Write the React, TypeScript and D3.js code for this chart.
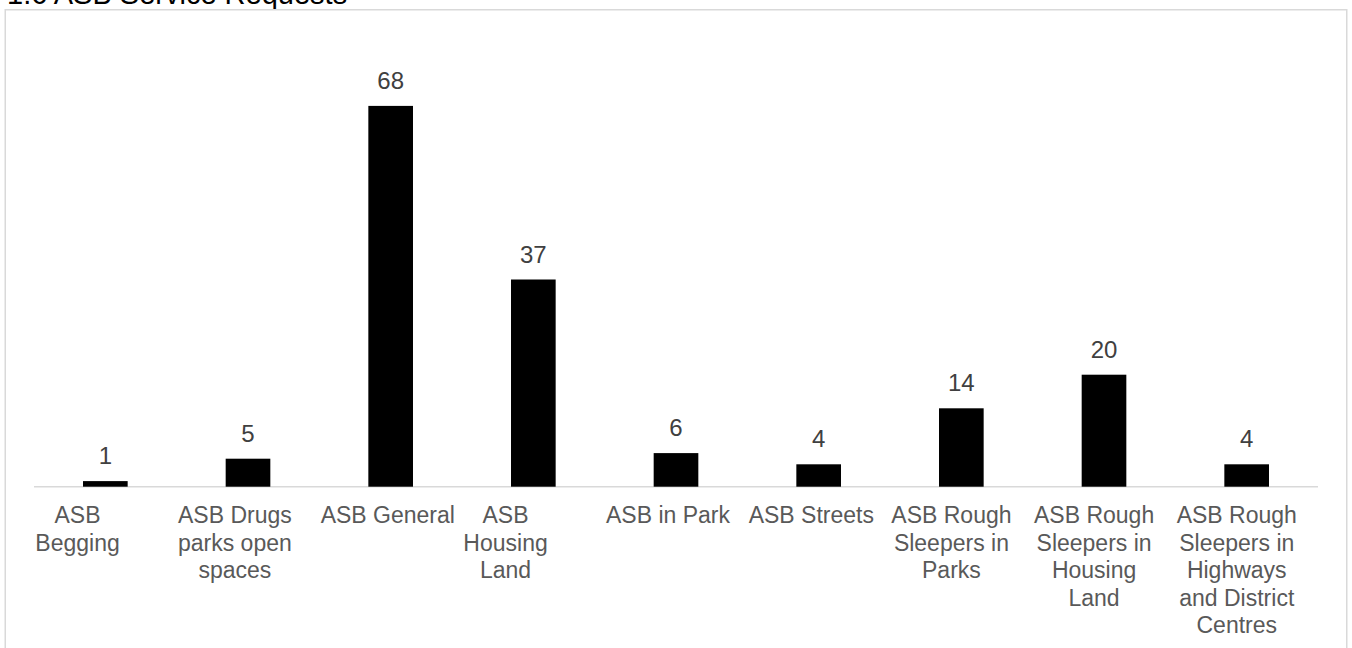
import React from "react";
import * as d3 from "d3";

const title = "1.6 ASB Service Requests";
const categories = [
  "ASB Begging",
  "ASB Drugs parks open spaces",
  "ASB General",
  "ASB Housing Land",
  "ASB in Park",
  "ASB Streets",
  "ASB Rough Sleepers in Parks",
  "ASB Rough Sleepers in Housing Land",
  "ASB Rough Sleepers in Highways and District Centres",
];
const values = [1, 5, 68, 37, 6, 4, 14, 20, 4];
const yDomainMax = 80;

const W = 1352;
const H = 648;
const FONT = "'Liberation Sans', Arial, sans-serif";
const LABEL_SIZE = 23;

let ctxCache: CanvasRenderingContext2D | null = null;
function measure(text: string, font: string): number {
  if (!ctxCache) ctxCache = document.createElement("canvas").getContext("2d")!;
  ctxCache.font = font;
  return ctxCache.measureText(text).width;
}

function wrap(text: string, maxWidth: number, font: string): string[] {
  const words = text.split(" ");
  const lines: string[] = [];
  let cur = "";
  for (const w of words) {
    const test = cur ? cur + " " + w : w;
    if (cur && measure(test, font) > maxWidth) {
      lines.push(cur);
      cur = w;
    } else {
      cur = test;
    }
  }
  if (cur) lines.push(cur);
  return lines;
}

export default function App() {
  const x = d3.scaleBand<string>().domain(categories).range([34, 1318]).padding(0);
  const y = d3.scaleLinear().domain([0, yDomainMax]).range([486.7, 38.7]);
  const bw = x.bandwidth() * 0.313;
  const labelFont = `${LABEL_SIZE}px 'Liberation Sans', Arial, sans-serif`;

  return (
    <svg
      width={W}
      height={H}
      style={{ position: "absolute", left: 0, top: 0, background: "#fff" }}
      fontFamily={FONT}
    >
      <rect x={0} y={0} width={W} height={H} fill="#fff" />
      <text x={7} y={4} fontSize={29} fill="#000">
        {title}
      </text>
      <rect
        x={5.25}
        y={9.75}
        width={1341.5}
        height={700}
        fill="none"
        stroke="#d9d9d9"
        strokeWidth={1.5}
      />
      <line x1={34} x2={1318} y1={y(0)} y2={y(0)} stroke="#d9d9d9" strokeWidth={1.5} />
      {categories.map((c, i) => {
        const cx = (x(c) as number) + x.bandwidth() / 2;
        const v = values[i];
        const lines = wrap(c, 135.5, labelFont);
        const maxW = d3.max(lines, (l) => measure(l, labelFont)) || 0;
        const lx = cx - 70 + maxW / 2;
        return (
          <g key={c}>
            <rect x={cx - bw / 2} y={y(v)} width={bw} height={y(0) - y(v)} fill="#000" />
            <text
              x={cx}
              y={y(v) - 17}
              textAnchor="middle"
              fontSize={24}
              fill="#404040"
            >
              {v}
            </text>
            <text textAnchor="middle" fontSize={LABEL_SIZE} fill="#595959">
              {lines.map((l, j) => (
                <tspan key={j} x={lx} y={523.3 + j * 27.4}>
                  {l}
                </tspan>
              ))}
            </text>
          </g>
        );
      })}
    </svg>
  );
}
